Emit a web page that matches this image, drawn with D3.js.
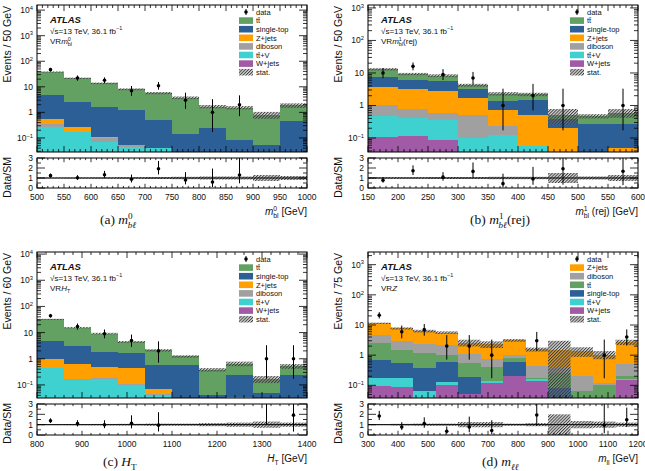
<!DOCTYPE html>
<html>
<head>
<meta charset="utf-8">
<script src="https://cdn.jsdelivr.net/npm/d3@7"></script>
<style>
  body { margin: 0; background: #fff; }
  text { font-family: "Liberation Sans", Arial, sans-serif; fill: #111; }
</style>
</head>
<body>
<div id="fig"></div>
<script>
// ---------------- data ----------------
// (a) VR m_bl^0
var aEdges     = [500, 550, 600, 650, 700, 750, 800, 850, 900, 950, 1000];
var aTtbar     = [33, 19, 12, 6.8, 5.2, 3.6, 1.45, 1.45, 0.75, 1.4];
var aSingleTop = [4.45, 2.3, 1.55, 1.15, 0.46, 0.13, 0.235, 0.083, 0.053, 0.48];
var aZjets     = [0.2, 0.105, 0.005, 0, 0, 0, 0, 0, 0, 0];
var aDiboson   = [0.07, 0.005, 0.028, 0.008, 0, 0, 0, 0, 0, 0];
var aTtV       = [0.28, 0.17, 0.072, 0.045, 0.04, 0.01, 0.005, 0, 0, 0];
var aWjets     = [0, 0, 0, 0, 0, 0, 0, 0, 0, 0];
var aData      = [47, 22, 18, 7, 11, 3, 1, 2, 0, 0];
var aStat      = [0.05, 0.06, 0.07, 0.08, 0.1, 0.12, 0.15, 0.15, 0.3, 0.2];

// (b) VR m_bl^1 (rej)
var bEdges     = [150, 200, 250, 300, 350, 400, 450, 500, 550, 600];
var bTtbar     = [5.7, 3.3, 2.5, 1.0, 0.94, 0.77, 0.13, 0.2, 0.33];
var bSingleTop = [3.7, 2.85, 3.0, 1.5, 0.61, 0.91, 0.19, 0.27, 0.22];
var bZjets     = [2.6, 2.4, 2.2, 1.2, 0.51, 0.46, 0.2, 0, 0.048];
var bDiboson   = [0.51, 0.34, 0.23, 0.42, 0.115, 0, 0, 0, 0];
var bTtV       = [0.38, 0.30, 0.27, 0.098, 0.125, 0.056, 0, 0, 0];
var bWjets     = [0.11, 0.115, 0.087, 0, 0, 0, 0, 0, 0];
var bData      = [10, 16, 9, 7, 1, 2, 1, 0, 1];
var bStat      = [0.08, 0.08, 0.1, 0.1, 0.12, 0.12, 0.5, 0.15, 0.3];

// (c) VR H_T
var cEdges     = [800, 860, 920, 980, 1040, 1100, 1160, 1220, 1280, 1340, 1400];
var cTtbar     = [27.4, 12.5, 7.4, 2.75, 1.5, 0.64, 0.34, 0.4, 0.12, 0.28];
var cSingleTop = [3.6, 2.35, 1.3, 1.2, 0.53, 0.59, 0.042, 0.21, 0.048, 0.24];
var cZjets     = [0.55, 0.47, 0.3, 0.34, 0.025, 0, 0, 0.036, 0, 0];
var cDiboson   = [0.01, 0.01, 0.01, 0.01, 0.005, 0, 0, 0, 0, 0];
var cTtV       = [0.44, 0.16, 0.17, 0.1, 0.04, 0, 0, 0, 0, 0];
var cWjets     = [0, 0, 0, 0, 0, 0, 0, 0, 0, 0];
var cData      = [44, 17, 9, 5, 2, 0, 0, 0, 1, 1];
var cStat      = [0.05, 0.06, 0.07, 0.08, 0.1, 0.1, 0.15, 0.2, 0.3, 0.2];

// (d) VR Z
var dEdges     = [300, 375, 450, 525, 600, 675, 750, 825, 900, 975, 1050, 1125, 1200];
var dZjets     = [6.8, 4.8, 3.9, 3.5, 1.47, 1.53, 2.05, 1.12, 1.12, 1.14, 0.93, 2.18];
var dDiboson   = [2.15, 1.4, 1.2, 1.05, 0.58, 0.36, 0.23, 0.26, 0.12, 0.147, 0.015, 0.32];
var dTtbar     = [1.77, 0.97, 0.84, 0.45, 0.36, 0.275, 0.24, 0.01, 0.18, 0.063, 0.105, 0.04];
var dSingleTop = [0.51, 0.36, 0.3, 0.47, 0.14, 0, 0.37, 0, 0.08, 0, 0, 0];
var dTtV       = [0.077, 0.08, 0.063, 0.03, 0, 0.015, 0.01, 0.02, 0, 0, 0, 0.01];
var dWjets     = [0.093, 0.09, 0, 0.1, 0.05, 0.12, 0.2, 0.14, 0, 0, 0, 0.15];
var dData      = [21, 6, 7, 2, 2, 1, 0, 3, 0, 0, 1, 4];
var dStat      = [0.05, 0.08, 0.1, 0.1, 0.25, 0.25, 0.1, 0.15, 1.0, 0.35, 0.3, 0.2];

// colours of the processes
var col = {
  ttbar: "#62a162", singletop: "#2d5f97", zjets: "#ff9f00",
  diboson: "#a0a0a0", ttv: "#3fd0d0", wjets: "#a05aa6"
};
var lab = {
  ttbar: "tt\u0304", singletop: "single-top", zjets: "Z+jets",
  diboson: "diboson", ttv: "tt\u0304+V", wjets: "W+jets"
};

// ---------------- svg ----------------
var svg = d3.select("#fig").append("svg")
    .attr("width", 645)
    .attr("height", 471);
var defs = svg.append("defs");
var pat = defs.append("pattern")
    .attr("id", "hatch")
    .attr("patternUnits", "userSpaceOnUse")
    .attr("width", 2.2).attr("height", 2.2)
    .attr("patternTransform", "rotate(45)");
pat.append("rect").attr("width", 2.2).attr("height", 2.2).attr("fill", "rgba(150,150,150,0.35)");
pat.append("line")
    .attr("x1", 0.5).attr("y1", 0).attr("x2", 0.5).attr("y2", 2.2)
    .attr("stroke", "#333").attr("stroke-width", 0.9);

// approximate Poisson (Garwood) interval
function poisson(n) {
  var lo = n > 0 ? n * Math.pow(1 - 1 / (9 * n) - 1 / (3 * Math.sqrt(n)), 3) : 0;
  var m = n + 1;
  var hi = m * Math.pow(1 - 1 / (9 * m) + 1 / (3 * Math.sqrt(m)), 3);
  return [lo, hi];
}

// text with italic / super / subscript parts
function rich(t, parts, fs) {
  var cur = 0;
  parts.forEach(function(p) {
    var shift = p.sup ? -0.38 * fs : (p.sub ? 0.3 * fs : 0);
    var ts = t.append("tspan").text(p.t).attr("dy", shift - cur);
    cur = shift;
    if (p.sup || p.sub) ts.attr("font-size", 0.68 * fs);
    if (p.i) ts.style("font-style", "italic");
    if (p.back) ts.attr("dx", -p.back);
  });
  return t;
}

function drawPanel(c) {
  var g = svg.append("g");
  var nb = c.edges.length - 1;
  var bins = d3.range(nb);
  var x = d3.scaleLinear().domain([c.edges[0], c.edges[nb]]).range([c.x0, c.x1]);
  var y = d3.scaleLog().domain(c.yDom).range([c.yB, c.yT]);
  var r = d3.scaleLinear().domain([0, 3]).range([c.rB, c.rT]);
  var ymin = c.yDom[0];

  defs.append("clipPath").attr("id", "clipm" + c.id).append("rect")
      .attr("x", c.x0).attr("y", c.yT).attr("width", c.x1 - c.x0).attr("height", c.yB - c.yT);
  defs.append("clipPath").attr("id", "clipr" + c.id).append("rect")
      .attr("x", c.x0).attr("y", c.rT).attr("width", c.x1 - c.x0).attr("height", c.rB - c.rT);

  var plot = g.append("g").attr("clip-path", "url(#clipm" + c.id + ")");

  // stacked histogram
  var cum = bins.map(function() { return 0; });
  c.stack.forEach(function(key) {
    var vals = c.vals[key];
    bins.forEach(function(i) {
      var lo = cum[i], hi = cum[i] + vals[i];
      cum[i] = hi;
      if (vals[i] <= 0 || hi <= ymin) return;
      plot.append("rect")
          .attr("x", x(c.edges[i]))
          .attr("width", x(c.edges[i + 1]) - x(c.edges[i]))
          .attr("y", y(hi))
          .attr("height", y(Math.max(lo, ymin)) - y(hi))
          .attr("fill", col[key])
          .attr("shape-rendering", "crispEdges");
    });
  });
  var total = cum;

  // MC stat band
  plot.selectAll(null).data(bins).enter().append("rect")
      .attr("x", function(i) { return x(c.edges[i]); })
      .attr("width", function(i) { return x(c.edges[i + 1]) - x(c.edges[i]); })
      .attr("y", function(i) { return y(total[i] * (1 + c.stat[i])); })
      .attr("height", function(i) {
        return y(Math.max(total[i] * (1 - c.stat[i]), ymin)) - y(total[i] * (1 + c.stat[i]));
      })
      .attr("fill", "url(#hatch)");

  // data points
  var pts = bins.filter(function(i) { return c.data[i] > 0; });
  plot.selectAll(null).data(pts).enter().append("line")
      .attr("x1", function(i) { return x((c.edges[i] + c.edges[i + 1]) / 2); })
      .attr("x2", function(i) { return x((c.edges[i] + c.edges[i + 1]) / 2); })
      .attr("y1", function(i) { return y(Math.max(poisson(c.data[i])[0], ymin)); })
      .attr("y2", function(i) { return y(poisson(c.data[i])[1]); })
      .attr("stroke", "#000").attr("stroke-width", 1);
  plot.selectAll(null).data(pts).enter().append("circle")
      .attr("cx", function(i) { return x((c.edges[i] + c.edges[i + 1]) / 2); })
      .attr("cy", function(i) { return y(c.data[i]); })
      .attr("r", 1.8).attr("fill", "#000");

  // ratio panel
  var rp = g.append("g").attr("clip-path", "url(#clipr" + c.id + ")");
  rp.selectAll(null).data(bins).enter().append("rect")
      .attr("x", function(i) { return x(c.edges[i]); })
      .attr("width", function(i) { return x(c.edges[i + 1]) - x(c.edges[i]); })
      .attr("y", function(i) { return r(1 + c.stat[i]); })
      .attr("height", function(i) { return r(Math.max(1 - c.stat[i], 0)) - r(1 + c.stat[i]); })
      .attr("fill", "url(#hatch)");
  rp.append("line")
      .attr("x1", c.x0).attr("x2", c.x1).attr("y1", r(1)).attr("y2", r(1))
      .attr("stroke", "#000").attr("stroke-width", 1);
  rp.selectAll(null).data(pts).enter().append("line")
      .attr("x1", function(i) { return x((c.edges[i] + c.edges[i + 1]) / 2); })
      .attr("x2", function(i) { return x((c.edges[i] + c.edges[i + 1]) / 2); })
      .attr("y1", function(i) { return r(poisson(c.data[i])[0] / total[i]); })
      .attr("y2", function(i) { return r(Math.min(poisson(c.data[i])[1] / total[i], 3.5)); })
      .attr("stroke", "#000").attr("stroke-width", 1);
  rp.selectAll(null).data(pts).enter().append("circle")
      .attr("cx", function(i) { return x((c.edges[i] + c.edges[i + 1]) / 2); })
      .attr("cy", function(i) { return r(c.data[i] / total[i]); })
      .attr("r", 1.8).attr("fill", "#000");

  // frames
  g.append("rect").attr("x", c.x0).attr("y", c.yT).attr("width", c.x1 - c.x0).attr("height", c.yB - c.yT)
      .attr("fill", "none").attr("stroke", "#000").attr("stroke-width", 1);
  g.append("rect").attr("x", c.x0).attr("y", c.rT).attr("width", c.x1 - c.x0).attr("height", c.rB - c.rT)
      .attr("fill", "none").attr("stroke", "#000").attr("stroke-width", 1);

  var tk = g.append("g").attr("stroke", "#000").attr("stroke-width", 0.8);
  function tick(x1, y1, x2, y2) {
    tk.append("line").attr("x1", x1).attr("y1", y1).attr("x2", x2).attr("y2", y2);
  }

  // x ticks
  var xs = d3.range(c.edges[0], c.edges[nb] + 0.001, c.xMinor);
  xs.forEach(function(v) {
    var major = Math.abs(Math.round(v / c.xMajor) * c.xMajor - v) < 1e-6;
    var L = major ? 6 : 3;
    var px = x(v);
    tick(px, c.yB, px, c.yB - L); tick(px, c.yT, px, c.yT + L);
    tick(px, c.rB, px, c.rB - L * 0.7); tick(px, c.rT, px, c.rT + L * 0.7);
  });
  d3.range(c.edges[0], c.edges[nb] + 0.001, c.xMajor).forEach(function(v) {
    g.append("text").attr("x", x(v)).attr("y", c.rB + 12)
        .attr("text-anchor", "middle").attr("font-size", 8.5).attr("fill", "#222")
        .text(v);
  });

  // log y ticks
  var k0 = Math.floor(Math.log10(c.yDom[0])), k1 = Math.ceil(Math.log10(c.yDom[1]));
  d3.range(k0, k1 + 1).forEach(function(k) {
    for (var m = 1; m < 10; m++) {
      var v = m * Math.pow(10, k);
      if (v < c.yDom[0] || v > c.yDom[1]) continue;
      var L = m === 1 ? 8 : 4;
      tick(c.x0, y(v), c.x0 + L, y(v)); tick(c.x1, y(v), c.x1 - L, y(v));
    }
    var pv = Math.pow(10, k);
    if (pv < c.yDom[0] || pv > c.yDom[1]) return;
    var t = g.append("text").attr("x", c.x0 - 4).attr("y", y(pv) + 3)
        .attr("text-anchor", "end").attr("font-size", 8.5).attr("fill", "#222");
    if (k === 0) t.text("1");
    else if (k === 1) t.text("10");
    else rich(t, [{t: "10"}, {t: k < 0 ? "\u2212" + (-k) : String(k), sup: 1}], 8.5);
  });

  // ratio y ticks
  d3.range(0, 3.001, 0.5).forEach(function(v) {
    var L = (v % 1 === 0) ? 8 : 4;
    tick(c.x0, r(v), c.x0 + L, r(v)); tick(c.x1, r(v), c.x1 - L, r(v));
  });
  [0, 1, 2, 3].forEach(function(v) {
    g.append("text").attr("x", c.x0 - 4).attr("y", r(v) + 3)
        .attr("text-anchor", "end").attr("font-size", 8.5).attr("fill", "#222").text(v);
  });

  // axis titles
  g.append("text").attr("transform", "translate(" + (c.x0 - 26) + "," + (c.yT + 1) + ") rotate(-90)")
      .attr("text-anchor", "end").attr("font-size", 10.5).attr("fill", "#222").text(c.yTitle);
  g.append("text").attr("transform", "translate(" + (c.x0 - 26) + "," + (c.rT - 1) + ") rotate(-90)")
      .attr("text-anchor", "end").attr("font-size", 10.5).attr("fill", "#222").text("Data/SM");
  rich(g.append("text").attr("x", c.x1).attr("y", c.rB + 27)
      .attr("text-anchor", "end").attr("font-size", 10).attr("fill", "#222"), c.xTitle, 10);

  // ATLAS label
  g.append("text").attr("x", c.x0 + 13).attr("y", c.yT + 18)
      .attr("font-size", 9.5).attr("font-weight", "bold").style("font-style", "italic").text("ATLAS");
  rich(g.append("text").attr("x", c.x0 + 13).attr("y", c.yT + 28.5).attr("font-size", 8).attr("fill", "#222"),
      [{t: "\u221as=13 TeV, 36.1 fb"}, {t: "\u22121", sup: 1}], 8);
  rich(g.append("text").attr("x", c.x0 + 13).attr("y", c.yT + 39).attr("font-size", 8).attr("fill", "#222"),
      c.region, 8);

  // legend
  var lx = c.x1 - 68;
  c.legend.forEach(function(e, k) {
    var cy = c.yT + 7 + k * 8.6;
    if (e === "data") {
      g.append("line").attr("x1", lx + 7).attr("x2", lx + 7).attr("y1", cy - 3).attr("y2", cy + 3)
          .attr("stroke", "#000");
      g.append("circle").attr("cx", lx + 7).attr("cy", cy).attr("r", 1.8).attr("fill", "#000");
    } else {
      g.append("rect").attr("x", lx).attr("y", cy - 3.3).attr("width", 14).attr("height", 6.6)
          .attr("fill", e === "stat" ? "url(#hatch)" : col[e]);
    }
    g.append("text").attr("x", lx + 17).attr("y", cy + 2.7).attr("font-size", 7.5).attr("fill", "#222")
        .text(e === "data" ? "data" : e === "stat" ? "stat." : lab[e]);
  });

  // caption
  rich(g.append("text").attr("x", c.capX).attr("y", c.capY)
      .attr("font-size", 13.5).style("font-family", "'Liberation Serif', 'DejaVu Serif', serif"), c.caption, 13.5);
}

var legendStd = ["data", "ttbar", "singletop", "zjets", "diboson", "ttv", "wjets", "stat"];
var stackStd = ["wjets", "ttv", "diboson", "zjets", "singletop", "ttbar"];

drawPanel({
  id: "a", x0: 37, x1: 307, yT: 5, yB: 152, rT: 158, rB: 188,
  yDom: [Math.pow(10, -1.55), Math.pow(10, 4.2)],
  edges: aEdges, xMajor: 50, xMinor: 10,
  stack: stackStd,
  vals: {ttbar: aTtbar, singletop: aSingleTop, zjets: aZjets, diboson: aDiboson, ttv: aTtV, wjets: aWjets},
  data: aData, stat: aStat, legend: legendStd,
  yTitle: "Events / 50 GeV",
  xTitle: [{t: "m", i: 1}, {t: "0", sup: 1}, {t: "bl", sub: 1, back: 3.8}, {t: " [GeV]"}],
  region: [{t: "VR"}, {t: "m", i: 1}, {t: "0", sup: 1}, {t: "bl", sub: 1, back: 3}],
  capX: 100, capY: 224,
  caption: [{t: "(a)  "}, {t: "m", i: 1}, {t: "0", sup: 1}, {t: "b\u2113", sub: 1, i: 1, back: 5}]
});

drawPanel({
  id: "b", x0: 368, x1: 638, yT: 5, yB: 152, rT: 158, rB: 188,
  yDom: [Math.pow(10, -1.43), Math.pow(10, 3.09)],
  edges: bEdges, xMajor: 50, xMinor: 10,
  stack: stackStd,
  vals: {ttbar: bTtbar, singletop: bSingleTop, zjets: bZjets, diboson: bDiboson, ttv: bTtV, wjets: bWjets},
  data: bData, stat: bStat, legend: legendStd,
  yTitle: "Events / 50 GeV",
  xTitle: [{t: "m", i: 1}, {t: "1", sup: 1}, {t: "bl", sub: 1, back: 3.8}, {t: " (rej) [GeV]"}],
  region: [{t: "VR"}, {t: "m", i: 1}, {t: "1", sup: 1}, {t: "bl", sub: 1, back: 3}, {t: "(rej)"}],
  capX: 470, capY: 224,
  caption: [{t: "(b)  "}, {t: "m", i: 1}, {t: "1", sup: 1}, {t: "b\u2113", sub: 1, i: 1, back: 5}, {t: "(rej)"}]
});

drawPanel({
  id: "c", x0: 37, x1: 307, yT: 252, yB: 398, rT: 404, rB: 435,
  yDom: [Math.pow(10, -1.5), Math.pow(10, 4.08)],
  edges: cEdges, xMajor: 100, xMinor: 20,
  stack: stackStd,
  vals: {ttbar: cTtbar, singletop: cSingleTop, zjets: cZjets, diboson: cDiboson, ttv: cTtV, wjets: cWjets},
  data: cData, stat: cStat, legend: legendStd,
  yTitle: "Events / 60 GeV",
  xTitle: [{t: "H", i: 1}, {t: "T", sub: 1}, {t: " [GeV]"}],
  region: [{t: "VR"}, {t: "H", i: 1}, {t: "T", sub: 1}],
  capX: 103, capY: 466,
  caption: [{t: "(c)  "}, {t: "H", i: 1}, {t: "T", sub: 1}]
});

drawPanel({
  id: "d", x0: 368, x1: 638, yT: 252, yB: 398, rT: 404, rB: 435,
  yDom: [Math.pow(10, -1.42), Math.pow(10, 3.42)],
  edges: dEdges, xMajor: 100, xMinor: 20,
  stack: ["wjets", "ttv", "singletop", "ttbar", "diboson", "zjets"],
  vals: {ttbar: dTtbar, singletop: dSingleTop, zjets: dZjets, diboson: dDiboson, ttv: dTtV, wjets: dWjets},
  data: dData, stat: dStat,
  legend: ["data", "zjets", "diboson", "ttbar", "singletop", "ttv", "wjets", "stat"],
  yTitle: "Events / 75 GeV",
  xTitle: [{t: "m", i: 1}, {t: "ll", sub: 1}, {t: " [GeV]"}],
  region: [{t: "VR"}, {t: "Z", i: 1}],
  capX: 482, capY: 466,
  caption: [{t: "(d)  "}, {t: "m", i: 1}, {t: "\u2113\u2113", sub: 1, i: 1}]
});
</script>
</body>
</html>
